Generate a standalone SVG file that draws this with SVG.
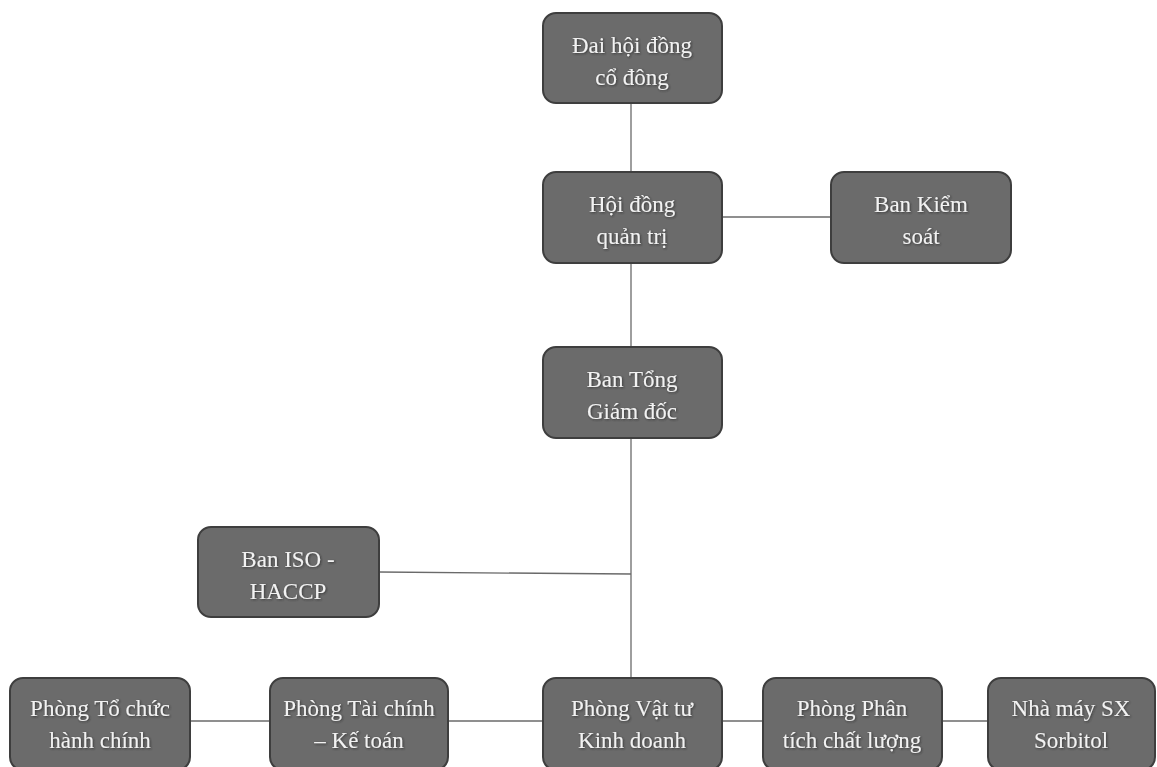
<svg xmlns="http://www.w3.org/2000/svg" width="1157" height="767" viewBox="0 0 1157 767">
<defs>
<style>
.box{fill:#6b6b6b;stroke:#3e3e3e;stroke-width:2}
.t{font-family:"Liberation Serif","DejaVu Serif",serif;font-size:23px;fill:#f2f2f2;text-anchor:middle}
.c{stroke:#6a6a6a;stroke-width:1.3;fill:none}
</style>
<filter id="sh" x="-10%" y="-10%" width="120%" height="130%"><feDropShadow dx="1" dy="1" stdDeviation="0.8" flood-color="#222" flood-opacity="0.7"/></filter>
</defs>
<rect width="1157" height="767" fill="#ffffff"/>
<g id="connectors">
<line class="c" x1="631" y1="103" x2="631" y2="172"/>
<line class="c" x1="722" y1="217" x2="831" y2="217"/>
<line class="c" x1="631" y1="263" x2="631" y2="347"/>
<line class="c" x1="631" y1="438" x2="631" y2="678"/>
<line class="c" x1="379" y1="572" x2="631" y2="574"/>
<line class="c" x1="190" y1="721" x2="270" y2="721"/>
<line class="c" x1="448" y1="721" x2="543" y2="721"/>
<line class="c" x1="722" y1="721" x2="763" y2="721"/>
<line class="c" x1="942" y1="721" x2="988" y2="721"/>
</g>
<g id="dhdcd"><rect class="box" x="543" y="13" width="179" height="90" rx="13"/><text class="t" filter="url(#sh)"><tspan x="632" y="53">Đai hội đồng</tspan><tspan x="632" y="85">cổ đông</tspan></text></g>
<g id="hdqt"><rect class="box" x="543" y="172" width="179" height="91" rx="13"/><text class="t" filter="url(#sh)"><tspan x="632" y="212">Hội đồng</tspan><tspan x="632" y="244">quản trị</tspan></text></g>
<g id="bks"><rect class="box" x="831" y="172" width="180" height="91" rx="13"/><text class="t" filter="url(#sh)"><tspan x="921" y="212">Ban Kiểm</tspan><tspan x="921" y="244">soát</tspan></text></g>
<g id="btgd"><rect class="box" x="543" y="347" width="179" height="91" rx="13"/><text class="t" filter="url(#sh)"><tspan x="632" y="387">Ban Tổng</tspan><tspan x="632" y="419">Giám đốc</tspan></text></g>
<g id="iso"><rect class="box" x="198" y="527" width="181" height="90" rx="13"/><text class="t" filter="url(#sh)"><tspan x="288" y="567">Ban ISO -</tspan><tspan x="288" y="599">HACCP</tspan></text></g>
<g id="tchc"><rect class="box" x="10" y="678" width="180" height="92" rx="13"/><text class="t" filter="url(#sh)"><tspan x="100" y="716">Phòng Tổ chức</tspan><tspan x="100" y="748">hành chính</tspan></text></g>
<g id="tckt"><rect class="box" x="270" y="678" width="178" height="92" rx="13"/><text class="t" filter="url(#sh)"><tspan x="359" y="716">Phòng Tài chính</tspan><tspan x="359" y="748">– Kế toán</tspan></text></g>
<g id="vtkd"><rect class="box" x="543" y="678" width="179" height="92" rx="13"/><text class="t" filter="url(#sh)"><tspan x="632" y="716">Phòng Vật tư</tspan><tspan x="632" y="748">Kinh doanh</tspan></text></g>
<g id="ptcl"><rect class="box" x="763" y="678" width="179" height="92" rx="13"/><text class="t" filter="url(#sh)"><tspan x="852" y="716">Phòng Phân</tspan><tspan x="852" y="748">tích chất lượng</tspan></text></g>
<g id="nmsx"><rect class="box" x="988" y="678" width="167" height="92" rx="13"/><text class="t" filter="url(#sh)"><tspan x="1071" y="716">Nhà máy SX</tspan><tspan x="1071" y="748">Sorbitol</tspan></text></g>
</svg>
